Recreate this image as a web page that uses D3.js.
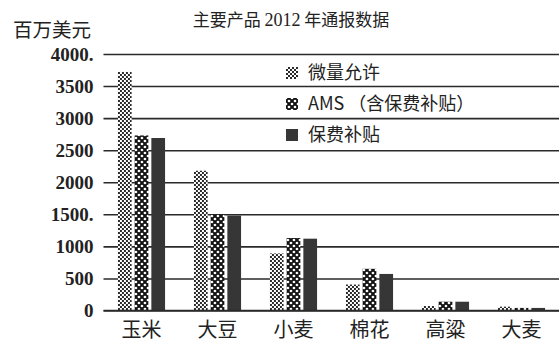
<!DOCTYPE html>
<html><head><meta charset="utf-8">
<script src="https://cdn.jsdelivr.net/npm/d3@7"></script>
<style>
body{margin:0;background:#fff;}
svg{display:block;}
.num{font-family:"Liberation Serif","Times New Roman",serif;}
.cjk{font-family:"Noto Sans CJK SC","Liberation Serif",serif;}
</style>
</head><body>
<svg id="c" width="559" height="344"></svg>
<script>
const categories = ["玉米","大豆","小麦","棉花","高粱","大麦"];
const seriesNames = ["微量允许","AMS （含保费补贴）","保费补贴"];
const deMinimis = [3720, 2180, 890, 405, 70, 60];
const amsTotal = [2730, 1500, 1130, 650, 137, 40];
const insurance = [2690, 1480, 1120, 570, 137, 40];
const tickValues = [0,500,1000,1500,2000,2500,3000,3500,4000];
const tickLabels = ["0","500","1000","1500.","2000","2500","3000","3500","4000."];
const titleA = "主要产品 ";
const titleB = "2012";
const titleC = " 年通报数据";
const yTitle = "百万美元";

const series = [deMinimis, amsTotal, insurance];
const svg = d3.select("#c");

const defs = svg.append("defs");
// fine checkerboard
const p1 = defs.append("pattern").attr("id","p1").attr("patternUnits","userSpaceOnUse").attr("width",4).attr("height",4);
p1.append("rect").attr("width",4).attr("height",4).attr("fill","#fff");
p1.append("rect").attr("width",2).attr("height",2).attr("fill","#2a2a2a");
p1.append("rect").attr("x",2).attr("y",2).attr("width",2).attr("height",2).attr("fill","#2a2a2a");
// AMS pattern
const p2 = defs.append("pattern").attr("id","p2").attr("patternUnits","userSpaceOnUse").attr("width",6).attr("height",6);
p2.append("rect").attr("width",6).attr("height",6).attr("fill","#111");
[[0,0],[6,0],[0,6],[6,6],[3,3]].forEach(([cx,cy])=>p2.append("circle").attr("cx",cx).attr("cy",cy).attr("r",1.35).attr("fill","#fff"));
const fills = ["url(#p1)","url(#p2)","#363636"];

const y = d3.scaleLinear().domain([0,4000]).range([310.5,54]);
const x0 = d3.scaleBand().domain(categories).range([103.5,559.5]).paddingInner(0.38).paddingOuter(0.19);
const x1 = d3.scaleBand().domain([0,1,2]).range([0,x0.bandwidth()]).paddingInner(0.18);

// gridlines + tick labels via axis
const yAxis = d3.axisLeft(y).tickValues(tickValues).tickFormat((d,i)=>tickLabels[i]).tickSize(-(559.5-103.5)).tickPadding(10);
const ga = svg.append("g").attr("transform","translate(103.5,0)").call(yAxis);
ga.attr("font-family",null).attr("font-size",null);
ga.select(".domain").remove();
ga.selectAll(".tick line").attr("stroke","#2a2a2a").attr("stroke-width",1.6);
ga.selectAll(".tick text").attr("class","num").style("font-size","19px").style("font-weight","bold").attr("fill","#222");

// bars
const groups = svg.append("g").selectAll("g").data(categories).join("g")
  .attr("transform",d=>`translate(${x0(d)},0)`);
groups.selectAll("rect").data((d,i)=>series.map((s,k)=>({k,v:s[i]}))).join("rect")
  .attr("x",d=>x1(d.k)).attr("width",x1.bandwidth())
  .attr("y",d=>y(d.v)).attr("height",d=>y(0)-y(d.v))
  .attr("fill",d=>fills[d.k]);

// baseline redraw on top
svg.append("line").attr("x1",103.5).attr("x2",559.5).attr("y1",y(0)).attr("y2",y(0)).attr("stroke","#2a2a2a").attr("stroke-width",1.6);

// x labels
const xAxis = d3.axisBottom(x0).tickSize(0).tickPadding(12);
const gx = svg.append("g").attr("transform",`translate(0,${y(0)})`).call(xAxis);
gx.attr("font-family",null).attr("font-size",null);
gx.select(".domain").remove();
gx.selectAll(".tick text").attr("class","cjk").style("font-size","20px").attr("fill","#222");

// titles
const t = svg.append("text").attr("x",291).attr("y",26).attr("text-anchor","middle")
  .attr("class","cjk").style("font-size","17px").attr("fill","#222");
t.append("tspan").text(titleA);
t.append("tspan").attr("class","num").style("font-size","18px").text(titleB);
t.append("tspan").text(titleC);
svg.append("text").attr("x",52).attr("y",37).attr("text-anchor","middle")
  .attr("class","cjk").style("font-size","19.5px").attr("fill","#222").text(yTitle);

// legend
const lg = svg.append("g").selectAll("g").data(seriesNames).join("g")
  .attr("transform",(d,i)=>`translate(286,${[73,104,135][i]})`);
lg.append("rect").attr("x",0).attr("y",-6).attr("width",12).attr("height",12).attr("fill",(d,i)=>fills[i]);
lg.append("text").attr("x",22).attr("y",0).attr("dy","0.36em")
  .attr("class","cjk").style("font-size","18px").attr("fill","#222").text(d=>d);
</script>
</body></html>
